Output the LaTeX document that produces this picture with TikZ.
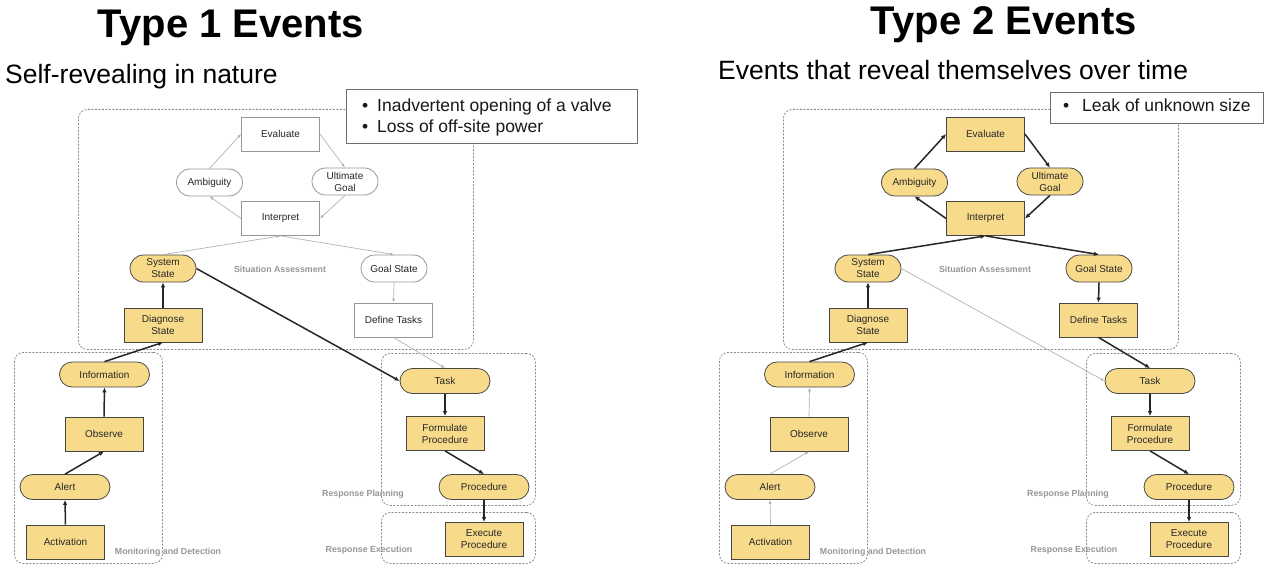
\documentclass[tikz,border=0pt]{standalone}
\usepackage{fontspec}
\setmainfont{Liberation Sans}
\usetikzlibrary{arrows.meta}

\definecolor{nodeyellow}{RGB}{248,219,138}
\definecolor{nodeline}{RGB}{70,70,70}
\definecolor{paleline}{RGB}{150,150,150}
\definecolor{groupline}{RGB}{140,140,140}
\definecolor{grouptext}{RGB}{150,150,150}
\definecolor{softarrow}{RGB}{178,178,178}
\definecolor{noteline}{RGB}{110,110,110}

\newcommand{\bulletmark}{\makebox[15pt][l]{•}}

\begin{document}
\begin{tikzpicture}[x=1pt,y=-1pt,
  every node/.style={inner sep=0pt},
  nodetext/.style={font=\fontsize{10}{12}\selectfont, align=center, text=black!85, line width=0.8pt},
  yel/.style={fill=nodeyellow, draw=nodeline},
  wht/.style={fill=white, draw=paleline},
  sq/.style={nodetext, rectangle, minimum width=78pt, minimum height=34pt},
  pill/.style={nodetext, rectangle, rounded corners=12.5pt, minimum width=90pt, minimum height=25pt},
  spill/.style={nodetext, rectangle, rounded corners=13.5pt, minimum width=66pt, minimum height=27pt},
  strong/.style={draw=black!85, line width=1.5pt, -{Latex[length=5pt,width=4.5pt]}},
  faint/.style={draw=softarrow, line width=0.7pt, -{Latex[length=4pt,width=3pt]}},
  group/.style={draw=groupline, line width=0.8pt, dash pattern=on 2pt off 1.5pt, rounded corners=9pt, anchor=north west},
  grouplabel/.style={font=\fontsize{8.8}{10}\selectfont\bfseries, text=grouptext},
  note/.style={draw=noteline, fill=white, line width=1pt, anchor=north west},
  notetext/.style={font=\fontsize{17.5}{21}\selectfont, text=black!90, anchor=base west},
  title/.style={font=\fontsize{40}{44}\selectfont\bfseries, anchor=base},
  subtitle/.style={font=\fontsize{26.5}{30}\selectfont, anchor=base west}
]
\useasboundingbox (0,0) rectangle (1265,564);

% ---------------- Type 1 ----------------
\node[title] (T1) at (231,38) {Type 1 Events};
\node[subtitle] (S1) at (5,84) {Self-revealing in nature};

% stage frames
\node[group, minimum width=395pt, minimum height=240pt] (Lsit) at (78,109) {};
\node[group, minimum width=148pt, minimum height=211pt] (Lmon) at (14,352) {};
\node[group, minimum width=154pt, minimum height=152pt] (Lplan) at (381,353) {};
\node[group, minimum width=154pt, minimum height=51pt] (Lexe) at (381,512) {};

\node[grouplabel] (LsitL) at (280,269) {Situation Assessment};
\node[grouplabel] (LmonL) at (168,552) {Monitoring and Detection};
\node[grouplabel] (LplanL) at (363,494) {Response Planning};
\node[grouplabel] (LexeL) at (369,550) {Response Execution};

% example events
\node[note, minimum width=291pt, minimum height=54pt] (Lnote) at (346,89) {};
\node[notetext] (Lnote1) at (362,112) {\bulletmark Inadvertent opening of a valve};
\node[notetext] (Lnote2) at (362,133) {\bulletmark Loss of off-site power};

% activities and states
\node[sq, wht] (Leval) at (280.5,134) {Evaluate};
\node[spill, wht] (Lamb) at (209.5,182.5) {Ambiguity};
\node[spill, wht] (Lult) at (345,181.5) {Ultimate\\Goal};
\node[sq, wht] (Linterp) at (280.5,218.5) {Interpret};
\node[spill, yel] (Lsys) at (163,268.5) {System\\State};
\node[spill, wht] (Lgoal) at (394,268.5) {Goal State};
\node[sq, yel] (Ldiag) at (163,325) {Diagnose\\State};
\node[sq, wht] (Ldef) at (393.5,320) {Define Tasks};
\node[pill, yel] (Linfo) at (104.5,374.5) {Information};
\node[sq, yel] (Lobs) at (104,434) {Observe};
\node[pill, yel] (Lalert) at (65,487) {Alert};
\node[sq, yel] (Lact) at (65.5,542) {Activation};
\node[pill, yel] (Ltask) at (445,381) {Task};
\node[sq, yel] (Lform) at (445,433.5) {Formulate\\Procedure};
\node[pill, yel] (Lproc) at (484,487) {Procedure};
\node[sq, yel] (Lexec) at (484,539.5) {Execute\\Procedure};

% connectors
\draw[faint] (Leval.east) -- (Lult.north);
\draw[faint] (Lult.south) -- (Linterp.east);
\draw[faint] (Linterp.west) -- (Lamb.south);
\draw[faint] (Lamb.north) -- (Leval.west);
\draw[faint] (Lsys.north) -- (Linterp.south);
\draw[faint] (Linterp.south) -- (Lgoal.north);
\draw[faint] (Lgoal.south) -- (Ldef.north);
\draw[faint] (Ldef.south) -- (Ltask.north);
\draw[strong] (Lsys.east) -- (Ltask.west);
\draw[strong] (Ldiag.north) -- (Lsys.south);
\draw[strong] (Linfo.north) -- (Ldiag.south);
\draw[strong] (Lobs.north) -- (Linfo.south);
\draw[strong] (Lalert.north) -- (Lobs.south);
\draw[strong] (Lact.north) -- (Lalert.south);
\draw[strong] (Ltask.south) -- (Lform.north);
\draw[strong] (Lform.south) -- (Lproc.north);
\draw[strong] (Lproc.south) -- (Lexec.north);

% ---------------- Type 2 ----------------
\node[title] (T2) at (1004,35) {Type 2 Events};
\node[subtitle] (S2) at (718,80) {Events that reveal themselves over time};

% stage frames
\node[group, minimum width=395pt, minimum height=240pt] (Rsit) at (783,109) {};
\node[group, minimum width=148pt, minimum height=211pt] (Rmon) at (719,352) {};
\node[group, minimum width=154pt, minimum height=152pt] (Rplan) at (1086,353) {};
\node[group, minimum width=154pt, minimum height=51pt] (Rexe) at (1086,512) {};

\node[grouplabel] (RsitL) at (985,269) {Situation Assessment};
\node[grouplabel] (RmonL) at (873,552) {Monitoring and Detection};
\node[grouplabel] (RplanL) at (1068,494) {Response Planning};
\node[grouplabel] (RexeL) at (1074,550) {Response Execution};

% example event
\node[note, minimum width=213pt, minimum height=31pt] (Rnote) at (1050,92) {};
\node[notetext] (Rnote1) at (1063,112) {\makebox[19pt][l]{•}Leak of unknown size};

% activities and states
\node[sq, yel] (Reval) at (985.5,134) {Evaluate};
\node[spill, yel] (Ramb) at (914.5,182.5) {Ambiguity};
\node[spill, yel] (Rult) at (1050,181.5) {Ultimate\\Goal};
\node[sq, yel] (Rinterp) at (985.5,218.5) {Interpret};
\node[spill, yel] (Rsys) at (868,268.5) {System\\State};
\node[spill, yel] (Rgoal) at (1099,268.5) {Goal State};
\node[sq, yel] (Rdiag) at (868,325) {Diagnose\\State};
\node[sq, yel] (Rdef) at (1098.5,320) {Define Tasks};
\node[pill, yel] (Rinfo) at (809.5,374.5) {Information};
\node[sq, yel] (Robs) at (809,434) {Observe};
\node[pill, yel] (Ralert) at (770,487) {Alert};
\node[sq, yel] (Ract) at (770.5,542) {Activation};
\node[pill, yel] (Rtask) at (1150,381) {Task};
\node[sq, yel] (Rform) at (1150,433.5) {Formulate\\Procedure};
\node[pill, yel] (Rproc) at (1189,487) {Procedure};
\node[sq, yel] (Rexec) at (1189,539.5) {Execute\\Procedure};

% connectors
\draw[strong] (Reval.east) -- (Rult.north);
\draw[strong] (Rult.south) -- (Rinterp.east);
\draw[strong] (Rinterp.west) -- (Ramb.south);
\draw[strong] (Ramb.north) -- (Reval.west);
\draw[strong] (Rsys.north) -- (Rinterp.south);
\draw[strong] (Rinterp.south) -- (Rgoal.north);
\draw[strong] (Rgoal.south) -- (Rdef.north);
\draw[strong] (Rdef.south) -- (Rtask.north);
\draw[faint] (Rsys.east) -- (Rtask.west);
\draw[strong] (Rdiag.north) -- (Rsys.south);
\draw[strong] (Rinfo.north) -- (Rdiag.south);
\draw[faint] (Robs.north) -- (Rinfo.south);
\draw[faint] (Ralert.north) -- (Robs.south);
\draw[faint] (Ract.north) -- (Ralert.south);
\draw[strong] (Rtask.south) -- (Rform.north);
\draw[strong] (Rform.south) -- (Rproc.north);
\draw[strong] (Rproc.south) -- (Rexec.north);
\end{tikzpicture}
\end{document}
